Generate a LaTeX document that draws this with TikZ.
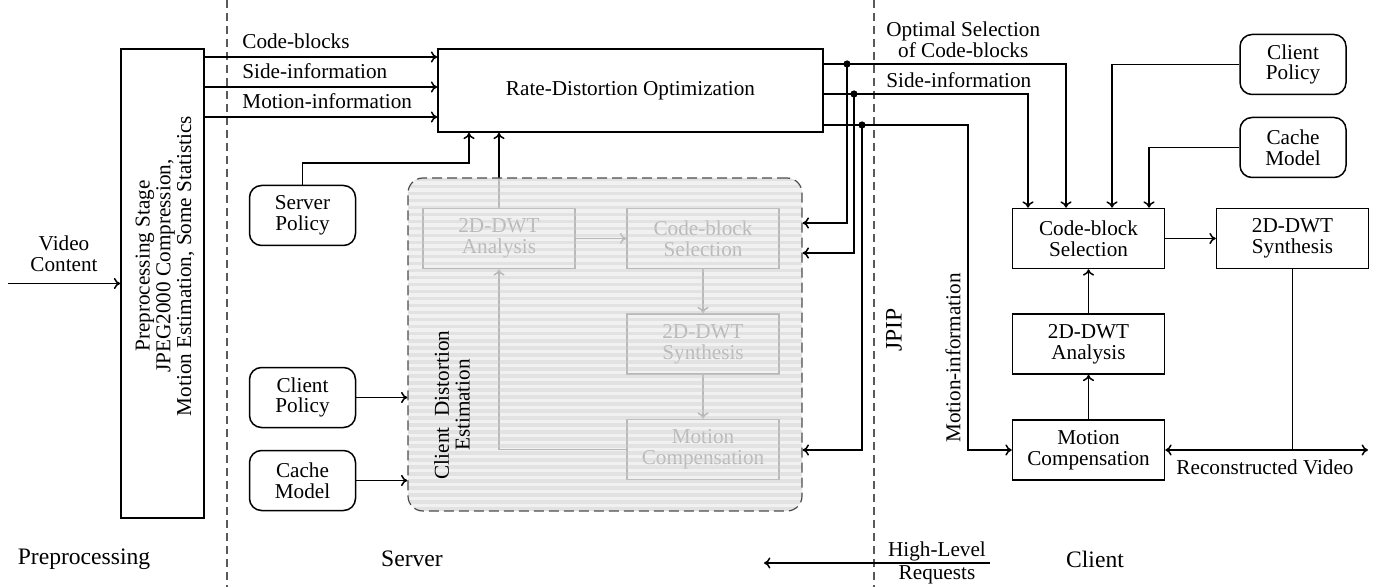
\documentclass[tikz,border=0pt]{standalone}
\usepackage{fontspec}
\setmainfont{Liberation Serif}
\usetikzlibrary{arrows.meta}
\usetikzlibrary{calc}

\tikzset{
  blk/.style={draw, rectangle, line width=0.75pt, minimum width=76pt, minimum height=30pt, align=center, inner sep=1pt},
  rblk/.style={blk, rounded corners=6pt, minimum width=53pt},
  link/.style={line width=0.75pt, ->},
  wire/.style={line width=0.75pt},
  sepline/.style={gray!70!black, line width=0.6pt, dash pattern=on 4pt off 2.5pt},
  biglabel/.style={font=\fontsize{11.8}{14}\selectfont},
  jdot/.style={circle, fill, inner sep=0pt, minimum size=3.6pt},
}

\begin{document}
\begin{tikzpicture}[x=0.5pt, y=-0.5pt, >={To[length=3.2pt,width=5.6pt]}, font=\fontsize{10.6}{10.4}\selectfont]
\useasboundingbox (0,0) rectangle (1390,587);

% separators
\draw[sepline] (227,0) -- (227,587);
\draw[sepline] (874,0) -- (874,587);

% preprocessing
\node[draw, line width=0.75pt, minimum width=41.5pt, minimum height=234.5pt, inner sep=0pt] (prep) at (162.5,283.5) {};
\node[rotate=90, align=center] (preptext) at (165,266) {Preprocessing Stage\\JPEG2000 Compression,\\Motion Estimation, Some Statistics};
\coordinate (vin) at (8,283.5);
\draw[link] (vin) -- (prep.west);
\node[align=center] (vlabel) at (64,254) {Video\\Content};

% server
\node[blk, minimum width=192.5pt, minimum height=41.5pt] (rdo) at (630.5,90.5) {Rate-Distortion Optimization};
\foreach \y/\txt in {57/Code-blocks, 87/Side-information, 117/Motion-information} {
  \draw[link] (prep.east |- 0,\y) -- (rdo.west |- 0,\y);
  \node[anchor=base west, inner sep=0pt] (in\y) at (242,\y-8) {\txt};
}

\node[rblk] (spol) at (302.5,215.5) {Server\\Policy};
\node[rblk] (lpol) at (302.5,397.5) {Client\\Policy};
\node[rblk] (lcache) at (302.5,480.5) {Cache\\Model};

% client distortion estimation (drawn, then faded)
\node[blk] (sana) at (499,238.5) {2D-DWT\\Analysis};
\node[blk] (scbs) at (703,238.5) {Code-block\\Selection};
\node[blk] (ssyn) at (703,344) {2D-DWT\\Synthesis};
\node[blk] (smc) at (703,449.5) {Motion\\Compensation};
\draw[link] (sana.east) -- (scbs.west);
\draw[link] (scbs.south) -- (ssyn.north);
\draw[link] (ssyn.south) -- (smc.north);
\draw[link] (smc.west) -| (sana.south);
\draw[link] (sana.north) -- (sana.north |- rdo.south);

\fill[gray!14, fill opacity=0.78, rounded corners=7.5pt] (408,178) rectangle (802,511);
\begin{scope}
  \clip[rounded corners=7.5pt] (408,178) rectangle (802,511);
  \foreach \y in {178,185,...,511}
    \fill[gray!40, fill opacity=0.4] (408,\y) rectangle (802,\y+3.5);
\end{scope}
\node[draw=gray!60!black, line width=0.6pt, dash pattern=on 5pt off 2.5pt, rounded corners=7.5pt,
  minimum width=197pt, minimum height=166.5pt, inner sep=0pt] (cde) at (605,344.5) {};
\node[rotate=90, align=center] (cdetext) at (452,405) {Client\enspace Distortion\\Estimation};

\draw[link] (spol.north) |- (469,163) -- (469,0 |- rdo.south);
\draw[link] (lpol.east) -- (cde.west |- lpol.east);
\draw[link] (lcache.east) -- (cde.west |- lcache.east);

% client
\node[blk] (ccbs) at (1088.5,238.5) {Code-block\\Selection};
\node[blk] (csyn) at (1292.5,238.5) {2D-DWT\\Synthesis};
\node[blk] (cana) at (1088.5,344) {2D-DWT\\Analysis};
\node[blk] (cmc) at (1088.5,450) {Motion\\Compensation};
\node[rblk] (cpol) at (1293,64.5) {Client\\Policy};
\node[rblk] (ccache) at (1293,147.5) {Cache\\Model};

\draw[link] (cpol.west) -| (1112,0 |- ccbs.north);
\draw[link] (ccache.west) -| (1149,0 |- ccbs.north);
\draw[link] (ccbs.east) -- (csyn.west);
\draw[link] (cana.north) -- (ccbs.south);
\draw[link] (cmc.north) -- (cana.south);
\coordinate (rv) at (1368,450);
\draw[link] (csyn.south) |- (rv);
\draw[link] (csyn.south) |- (cmc.east);
\node (rvlabel) at (1265,467) {Reconstructed Video};

% rdo outputs
\coordinate (j1) at (847,64);
\coordinate (j2) at (854,94);
\coordinate (j3) at (862,125);
\draw[link] (rdo.east |- j1) -- (1066,64) -- (1066,0 |- ccbs.north);
\draw[link] (rdo.east |- j2) -- (1028,94) -- (1028,0 |- ccbs.north);
\draw[link] (rdo.east |- j3) -- (968,125) |- (cmc.west);
\draw[link] (j1) |- (cde.east |- 0,223);
\draw[link] (j2) |- (cde.east |- 0,253);
\draw[link] (j3) |- (cde.east |- 0,450);
\foreach \j in {j1,j2,j3}
  \node[jdot] at (\j) {};

\node[anchor=west, align=center, inner sep=0pt] (optlabel) at (886,40) {Optimal Selection\\of Code-blocks};
\node[anchor=west, inner sep=0pt] (sidelabel) at (886,80) {Side-information};
\node[rotate=90] (motlabel) at (953,358) {Motion-information};
\node[rotate=90, biglabel] (jpip) at (894,330) {JPIP};

% requests
\coordinate (hlr) at (990,563);
\coordinate (hlrend) at (764,563);
\draw[link] (hlr) -- (hlrend);
\node[above, inner sep=1pt] (hlrtop) at (937,563) {High-Level};
\node[below, inner sep=1pt] (hlrbot) at (937,563) {Requests};

% stage labels
\node[biglabel] (lprep) at (84,559) {Preprocessing};
\node[biglabel] (lserv) at (412,559) {Server};
\node[biglabel] (lclient) at (1095,559) {Client};
\end{tikzpicture}
\end{document}
